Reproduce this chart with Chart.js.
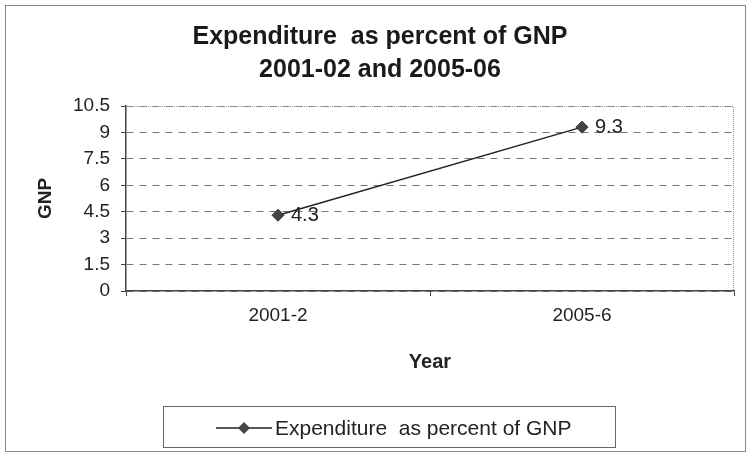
<!DOCTYPE html>
<html>
<head>
<meta charset="utf-8">
<script src="https://cdn.jsdelivr.net/npm/chart.js@4/dist/chart.umd.min.js"></script>
<style>
  html, body { margin: 0; padding: 0; background: #fff; }
  #c { display: block; }
</style>
</head>
<body>
<canvas id="c" width="752" height="453"></canvas>
<script>
// --- Data ---
const titleLines = ['Expenditure  as percent of GNP', '2001-02 and 2005-06'];
const years = ['2001-2', '2005-6'];
const seriesName = 'Expenditure  as percent of GNP';
const gnpValues = [4.3, 9.3];
const yTicks = [0, 1.5, 3, 4.5, 6, 7.5, 9, 10.5];

const FONT = "'Liberation Sans', Arial, sans-serif";
const INK = '#222';

// outer frame + dotted top/right border of plot area
const framePlugin = {
    id: 'frame',
    beforeDraw(chart) {
        const ctx = chart.ctx;
        ctx.save();
        ctx.fillStyle = '#fff';
        ctx.fillRect(0, 0, chart.width, chart.height);
        ctx.strokeStyle = '#8a8a8a';
        ctx.lineWidth = 1;
        ctx.strokeRect(5.5, 5.5, 740, 446);
        ctx.restore();
    },
    afterDraw(chart) {
        const a = chart.chartArea;
        const ctx = chart.ctx;
        ctx.save();
        ctx.strokeStyle = '#999';
        ctx.lineWidth = 1;
        ctx.setLineDash([1, 1]);
        ctx.beginPath();
        ctx.moveTo(a.left, a.top + 0.5);
        ctx.lineTo(a.right - 0.5, a.top + 0.5);
        ctx.lineTo(a.right - 0.5, a.bottom);
        ctx.stroke();
        ctx.restore();
    }
};

// value labels to the right of each point
const valueLabels = {
    id: 'valueLabels',
    afterDatasetsDraw(chart) {
        const ctx = chart.ctx;
        const meta = chart.getDatasetMeta(0);
        ctx.save();
        ctx.font = '20px ' + FONT;
        ctx.fillStyle = INK;
        ctx.textAlign = 'left';
        ctx.textBaseline = 'middle';
        meta.data.forEach((pt, i) => {
            ctx.fillText(String(gnpValues[i]), pt.x + 13, pt.y);
        });
        ctx.restore();
    }
};

// boxed legend at the bottom, Excel style
const boxLegend = {
    id: 'boxLegend',
    afterDraw(chart) {
        const ctx = chart.ctx;
        const ds = chart.data.datasets[0];
        ctx.save();
        ctx.strokeStyle = '#666';
        ctx.lineWidth = 1;
        ctx.strokeRect(163.5, 406.5, 452, 41);
        const cy = 428;
        ctx.strokeStyle = ds.borderColor;
        ctx.lineWidth = 1.5;
        ctx.beginPath();
        ctx.moveTo(216, cy);
        ctx.lineTo(272, cy);
        ctx.stroke();
        ctx.fillStyle = ds.pointBackgroundColor;
        ctx.beginPath();
        ctx.moveTo(244, cy - 6);
        ctx.lineTo(250, cy);
        ctx.lineTo(244, cy + 6);
        ctx.lineTo(238, cy);
        ctx.closePath();
        ctx.fill();
        ctx.font = '21px ' + FONT;
        ctx.fillStyle = INK;
        ctx.textAlign = 'left';
        ctx.textBaseline = 'middle';
        ctx.fillText(ds.label, 275, cy + 1);
        ctx.restore();
    }
};

new Chart(document.getElementById('c'), {
    type: 'line',
    data: {
        labels: years,
        datasets: [{
            label: seriesName,
            data: gnpValues,
            borderColor: '#222',
            borderWidth: 1.5,
            pointStyle: 'rectRot',
            pointRadius: 6,
            pointBackgroundColor: '#444',
            pointBorderColor: '#333',
            pointBorderWidth: 1,
            tension: 0
        }]
    },
    options: {
        responsive: false,
        animation: false,
        devicePixelRatio: 1,
        layout: { padding: { top: 5, left: 26, right: 18, bottom: 62 } },
        plugins: {
            legend: { display: false },
            tooltip: { enabled: false },
            title: {
                display: true,
                text: titleLines,
                color: '#1a1a1a',
                font: { family: FONT, size: 25, weight: 'bold', lineHeight: 1.3 },
                padding: { top: 16, bottom: 20 }
            }
        },
        scales: {
            x: {
                offset: true,
                afterFit(s) { s.height = 100; },
                grid: {
                    offset: true,
                    drawOnChartArea: false,
                    drawTicks: true,
                    tickLength: 5,
                    color: '#444'
                },
                border: { color: '#444', width: 1.5 },
                ticks: {
                    color: INK,
                    padding: 8,
                    font: { family: FONT, size: 19 }
                },
                title: {
                    display: true,
                    text: 'Year',
                    color: INK,
                    font: { family: FONT, size: 20, weight: 'bold' },
                    padding: { top: 0, bottom: 17 }
                }
            },
            y: {
                min: 0,
                max: 10.5,
                afterFit(s) { s.width = 100; },
                afterBuildTicks(s) { s.ticks = yTicks.map(v => ({ value: v })); },
                grid: {
                    color: '#777',
                    lineWidth: 1,
                    tickLength: 5,
                    tickColor: '#444',
                    drawTicks: true
                },
                border: { color: '#444', width: 1.5, dash: [7, 6] },
                ticks: {
                    color: INK,
                    padding: 11,
                    font: { family: FONT, size: 19 },
                    callback: v => String(v)
                },
                title: {
                    display: true,
                    text: 'GNP',
                    color: INK,
                    font: { family: FONT, size: 19, weight: 'bold' },
                    padding: { top: 8, bottom: 0 }
                }
            }
        }
    },
    plugins: [framePlugin, valueLabels, boxLegend]
});
</script>
</body>
</html>
